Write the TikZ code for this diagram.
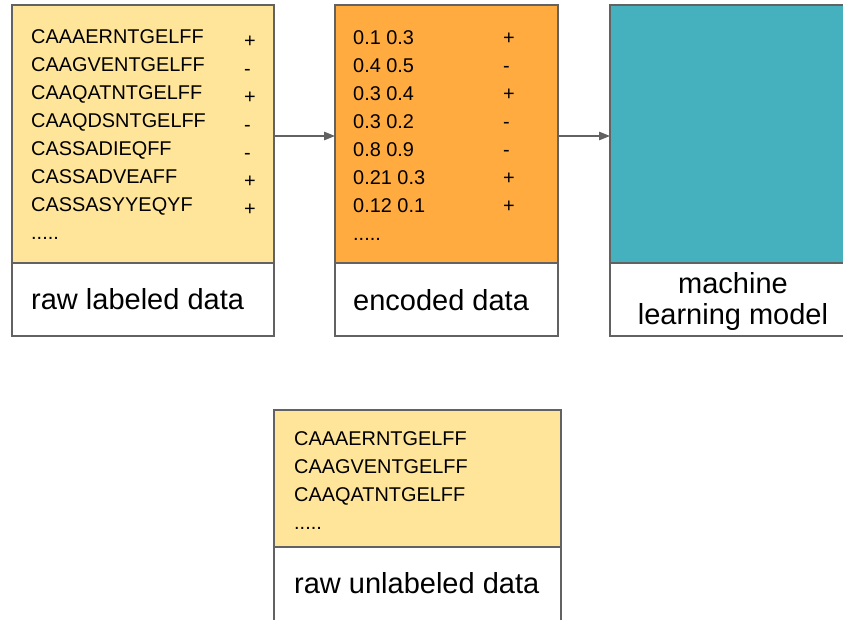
\documentclass[tikz,border=0pt]{standalone}
\usepackage{fontspec}
\setmainfont{Liberation Sans}
\usetikzlibrary{arrows.meta}
\definecolor{paleyellow}{HTML}{FFE599}
\definecolor{boxorange}{HTML}{FFAB40}
\definecolor{boxteal}{HTML}{45B0BE}
\definecolor{edgegray}{HTML}{626262}
\tikzset{
  panel/.style={draw=edgegray, line width=1.3pt, inner sep=0pt, outer sep=0pt},
  row/.style={anchor=base west, inner sep=0pt, font=\fontsize{19.9}{22}\selectfont},
  caption/.style={anchor=base west, inner sep=0pt, font=\fontsize{29}{33}\selectfont},
  flow/.style={draw=edgegray, line width=1.3pt, -{Triangle[length=11pt,width=8.5pt]}}
}
\begin{document}
\begin{tikzpicture}[x=1pt,y=-1pt]
\useasboundingbox (0,0) rectangle (843,619);
\clip (0,0) rectangle (843,619);

% raw labeled data
\path[panel, fill=paleyellow] (12,5) rectangle (274,263);
\path[panel, fill=white] (12,263) rectangle (274,336);
\node[panel, draw=none, minimum width=262pt, minimum height=258pt] (raw) at (143,134) {};
\foreach \s/\l [count=\i from 0] in {CAAAERNTGELFF/+, CAAGVENTGELFF/-, CAAQATNTGELFF/+, CAAQDSNTGELFF/-, CASSADIEQFF/-, CASSADVEAFF/+, CASSASYYEQYF/+}{
  \node[row] (raws\i) at (31,{43+28*\i}) {\s};
  \node[row] (rawl\i) at (244,{47.5+28*\i}) {\l};
}
\node[row] (rawdots) at (31,239) {.....};
\node[caption] (rawcap) at (31,309) {raw labeled data};

% encoded data
\path[panel, fill=boxorange] (335,5) rectangle (558,263);
\path[panel, fill=white] (335,263) rectangle (558,336);
\node[panel, draw=none, minimum width=223pt, minimum height=258pt] (enc) at (446.5,134) {};
\foreach \s/\l [count=\i from 0] in {0.1 0.3/+, 0.4 0.5/-, 0.3 0.4/+, 0.3 0.2/-, 0.8 0.9/-, 0.21 0.3/+, 0.12 0.1/+}{
  \node[row] (encs\i) at (353,{44+28*\i}) {\s};
  \node[row] (encl\i) at (503,{44+28*\i}) {\l};
}
\node[row] (encdots) at (353,240) {.....};
\node[caption] (enccap) at (353,310) {encoded data};

% machine learning model
\path[panel, fill=boxteal] (610,5) rectangle (856,263);
\path[panel, fill=white] (610,263) rectangle (856,336);
\node[panel, draw=none, minimum width=246pt, minimum height=258pt] (model) at (733,134) {};
\node[caption, anchor=base] (modcap1) at (733,293) {machine};
\node[caption, anchor=base] (modcap2) at (733,324.5) {learning model};

% raw unlabeled data
\path[panel, fill=paleyellow] (274,410) rectangle (561,547);
\path[panel, fill=white] (274,547) rectangle (561,630);
\foreach \s [count=\i from 0] in {CAAAERNTGELFF, CAAGVENTGELFF, CAAQATNTGELFF}{
  \node[row] (unl\i) at (294,{445+28*\i}) {\s};
}
\node[row] (unldots) at (294,529) {.....};
\node[caption] (unlcap) at (294,593) {raw unlabeled data};

% flow between stages
\draw[flow] ([yshift=-2pt]raw.east) -- ([yshift=-2pt]enc.west);
\draw[flow] ([yshift=-2pt]enc.east) -- ([yshift=-2pt]model.west);
\end{tikzpicture}
\end{document}
